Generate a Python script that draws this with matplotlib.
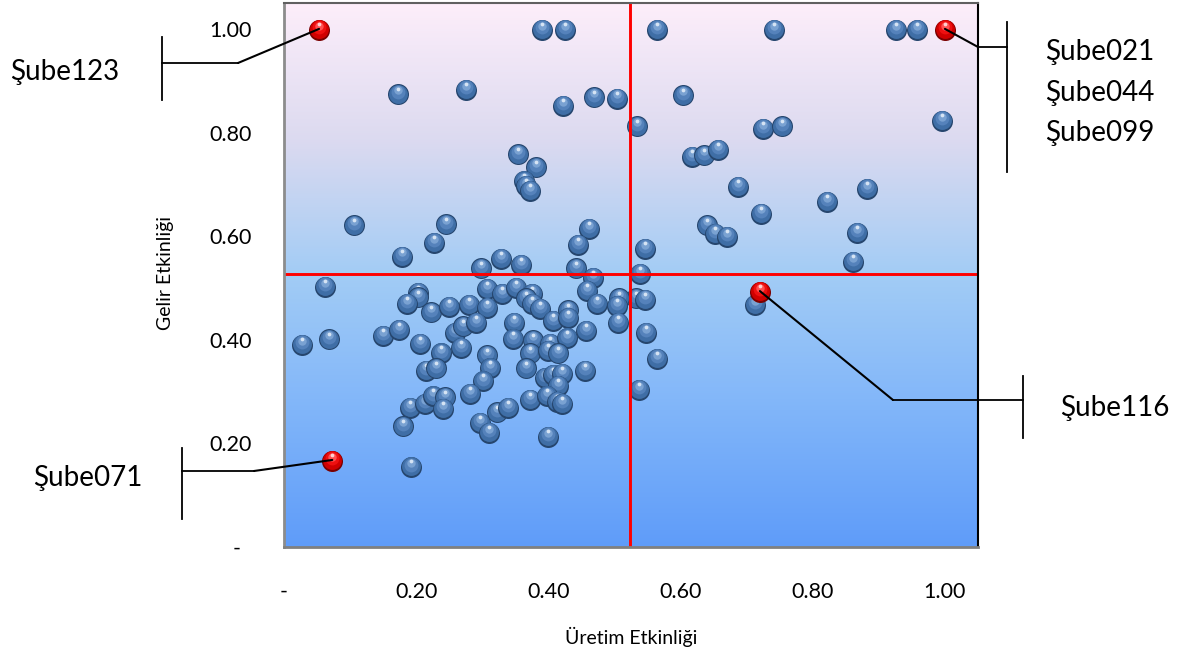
import numpy as np
import matplotlib
matplotlib.use("Agg")
import matplotlib.pyplot as plt
from matplotlib.colors import LinearSegmentedColormap
from matplotlib.transforms import offset_copy
from matplotlib.lines import Line2D

plt.rcParams["font.family"] = ["Lato", "DejaVu Sans"]

# Branch efficiency scores: production (x) vs. revenue (y)
uretim = [
    0.390, 0.425, 0.564, 0.741, 0.926, 0.958,
    0.172, 0.275, 0.422, 0.469, 0.504, 0.604, 0.534, 0.725, 0.753, 0.995,
    0.354, 0.381, 0.363, 0.366, 0.372, 0.617, 0.635, 0.657, 0.687, 0.722,
    0.821, 0.882, 0.106, 0.245, 0.227, 0.179, 0.461, 0.445, 0.640, 0.652,
    0.670, 0.867, 0.546, 0.861, 0.298, 0.328, 0.359, 0.442, 0.467, 0.539,
    0.533, 0.546, 0.507, 0.504, 0.505, 0.548, 0.564, 0.537, 0.713,
    0.062, 0.027, 0.068, 0.203, 0.203, 0.186, 0.222, 0.250, 0.280, 0.307,
    0.307, 0.150, 0.174, 0.206, 0.259, 0.271, 0.290, 0.238, 0.268, 0.307,
    0.330, 0.351, 0.375, 0.366, 0.375, 0.387, 0.458, 0.474, 0.348, 0.407,
    0.430, 0.430, 0.346, 0.377, 0.402, 0.428, 0.457, 0.215, 0.230, 0.312,
    0.301, 0.281, 0.191, 0.213, 0.225, 0.244, 0.241, 0.180, 0.297, 0.310,
    0.322, 0.372, 0.399, 0.415, 0.366, 0.395, 0.407, 0.421, 0.415, 0.455,
    0.372, 0.398, 0.413, 0.421, 0.339, 0.399, 0.192,
]
gelir = [
    1.000, 1.000, 1.000, 1.000, 1.000, 1.000,
    0.875, 0.884, 0.853, 0.869, 0.867, 0.873, 0.813, 0.809, 0.813, 0.824,
    0.759, 0.734, 0.708, 0.699, 0.689, 0.755, 0.757, 0.768, 0.697, 0.645,
    0.668, 0.693, 0.622, 0.624, 0.589, 0.562, 0.616, 0.585, 0.622, 0.606,
    0.600, 0.608, 0.577, 0.552, 0.539, 0.558, 0.546, 0.539, 0.521, 0.529,
    0.481, 0.479, 0.481, 0.467, 0.434, 0.415, 0.365, 0.305, 0.469,
    0.504, 0.392, 0.402, 0.492, 0.483, 0.471, 0.454, 0.465, 0.469, 0.500,
    0.463, 0.409, 0.421, 0.394, 0.415, 0.427, 0.434, 0.376, 0.386, 0.371,
    0.490, 0.502, 0.490, 0.481, 0.471, 0.461, 0.496, 0.471, 0.434, 0.438,
    0.458, 0.444, 0.403, 0.400, 0.394, 0.405, 0.419, 0.342, 0.346, 0.347,
    0.322, 0.297, 0.270, 0.278, 0.293, 0.290, 0.268, 0.234, 0.241, 0.222,
    0.261, 0.375, 0.380, 0.375, 0.346, 0.328, 0.334, 0.336, 0.313, 0.342,
    0.286, 0.293, 0.282, 0.278, 0.270, 0.214, 0.156,
]

# Highlighted branches
vurgu_x = [0.053, 0.073, 1.000, 0.720]
vurgu_y = [1.000, 0.168, 1.000, 0.494]
vurgu_etiket = [["Şube123"], ["Şube071"], ["Şube021", "Şube044", "Şube099"], ["Şube116"]]

# Quadrant dividers (average efficiency)
ort_uretim = 0.523
ort_gelir = 0.527

tick_vals = [0.0, 0.2, 0.4, 0.6, 0.8, 1.0]
x_tick_labels = ["-", "0.20", "0.40", "0.60", "0.80", "1.00"]
y_tick_labels = ["-  ", "0.20", "0.40", "0.60", "0.80", "1.00"]

W, H = 1190, 665
fig = plt.figure(figsize=(W / 100, H / 100), dpi=100)
ax = fig.add_axes([284 / W, 1 - 547 / H, (978 - 284) / W, (547 - 3) / H])
ax.set_xlim(0, 1.05)
ax.set_ylim(0, 1.05)


def fp(x, y):
    """Figure pixel (top-left origin) to figure fraction."""
    return (x / W, 1 - y / H)


# Background gradient of the plot area
bg = LinearSegmentedColormap.from_list(
    "bg",
    [(0.0, "#fdeefa"), (0.25, "#dcdaf0"), (0.5, "#a2ccf5"),
     (0.75, "#80b5fa"), (1.0, "#5f9cf9")],
)
grad = np.linspace(0, 1, 256).reshape(-1, 1)
ax.imshow(grad, cmap=bg, extent=[0, 1.05, 0, 1.05], origin="upper",
          aspect="auto", zorder=0, interpolation="bilinear")

BLUE = ["#26466e", "#3f6ea6", "#5582bb", "#7aa2d2", "#d6e4f4"]
RED = ["#7a0000", "#d00000", "#ee1010", "#ff5050", "#ffd0d0"]


def sphere(x, y, pal, z, d=21):
    layers = [
        (1.00, -0.5, pal[0]),
        (0.90, 0.0, pal[1]),
        (0.66, 1.2, pal[2]),
        (0.40, 2.4, pal[3]),
        (0.18, 3.4, pal[4]),
    ]
    for k, (f, dy, c) in enumerate(layers):
        tr = offset_copy(ax.transData, fig=fig, x=0, y=dy, units="points")
        ax.scatter([x], [y], s=(d * 0.72 * f) ** 2, c=c, transform=tr,
                   linewidths=0, zorder=z + k * 0.0001)


for i, (x, y) in enumerate(zip(uretim, gelir)):
    sphere(x, y, BLUE, 3 + i * 0.001)
for i, (x, y) in enumerate(zip(vurgu_x, vurgu_y)):
    sphere(x, y, RED, 5 + i * 0.001)

ax.axvline(ort_uretim, color="#ff0000", lw=2.1, zorder=50)
ax.axhline(ort_gelir, color="#ff0000", lw=2.1, zorder=50)

# Axes styling
ax.set_xticks(tick_vals)
ax.set_xticklabels(x_tick_labels)
ax.set_yticks(tick_vals)
ax.set_yticklabels(y_tick_labels)
ax.tick_params(axis="both", length=0, labelsize=15.5, colors="black")
ax.tick_params(axis="x", pad=25)
ax.tick_params(axis="y", pad=23)
ax.spines["left"].set_color("#8c8c8c")
ax.spines["left"].set_linewidth(2)
ax.spines["bottom"].set_color("#808080")
ax.spines["bottom"].set_linewidth(2)
ax.spines["top"].set_color("#606060")
ax.spines["top"].set_linewidth(1.5)
ax.spines["right"].set_color("black")
ax.spines["right"].set_linewidth(1.5)
for s in ax.spines.values():
    s.set_zorder(60)

fig.text(*fp(631, 637), "Üretim Etkinliği", ha="center", va="center", fontsize=14)
fig.text(*fp(165, 273), "Gelir Etkinliği", ha="center", va="center",
         fontsize=14, rotation=90)

# Callouts: point -> elbow -> bracket, label beside bracket
callouts = [
    # elbow, bracket x, bracket y-range, text x, text y positions
    ((238, 63), 162, (37, 100), 10, [72]),
    ((254, 471), 182, (448, 519), 33, [478]),
    ((978, 47), 1007, (22, 172), 1045, [52, 93, 133]),
    ((893, 400), 1023, (376, 438), 1060, [408]),
]
for (px, py, labels, (elbow, bx, (by0, by1), tx, tys)) in zip(
        vurgu_x, vurgu_y, vurgu_etiket, callouts):
    ax.annotate("", xy=(px, py), xycoords="data", xytext=fp(*elbow),
                textcoords="figure fraction",
                arrowprops=dict(arrowstyle="-", color="black", lw=1.5,
                                shrinkA=0, shrinkB=0),
                zorder=100, annotation_clip=False)
    fig.add_artist(Line2D([elbow[0] / W, bx / W], [1 - elbow[1] / H] * 2,
                          transform=fig.transFigure, color="black", lw=1.3))
    fig.add_artist(Line2D([bx / W] * 2, [1 - by0 / H, 1 - by1 / H],
                          transform=fig.transFigure, color="black", lw=1.3))
    for lab, ty in zip(labels, tys):
        fig.text(*fp(tx, ty), lab, ha="left", va="center", fontsize=20)

fig.savefig("out.png", dpi=100)
